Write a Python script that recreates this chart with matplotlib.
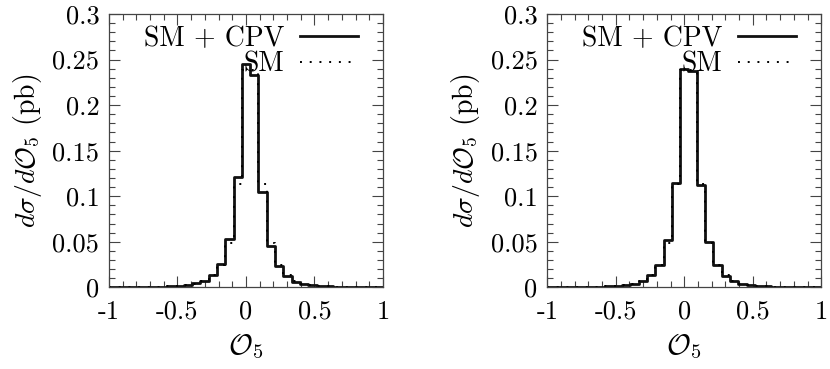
import numpy as np
import matplotlib
matplotlib.use("Agg")
import matplotlib.pyplot as plt
from matplotlib.ticker import MultipleLocator

plt.rcParams['font.family'] = ['cmr10']
plt.rcParams['mathtext.fontset'] = 'cm'
plt.rcParams['axes.unicode_minus'] = False

# bin edges of the O5 histogram (33 bins on [-1, 1])
edges = np.linspace(-1, 1, 34)

sm = [0.0001, 0.0001, 0.0002, 0.0003, 0.0004, 0.0006, 0.0008, 0.0012, 0.0017,
      0.0025, 0.0040, 0.0068, 0.013, 0.0245, 0.049, 0.113, 0.239, 0.239, 0.113,
      0.049, 0.0245, 0.013, 0.0068, 0.0040, 0.0025, 0.0017, 0.0012, 0.0008,
      0.0006, 0.0004, 0.0003, 0.0002, 0.0001]

cpv_left = [0.0001, 0.0001, 0.0002, 0.0003, 0.0004, 0.0006, 0.0008, 0.0013, 0.0018,
            0.0027, 0.0043, 0.0073, 0.0137, 0.026, 0.053, 0.121, 0.245, 0.233, 0.105,
            0.045, 0.023, 0.0123, 0.0063, 0.0037, 0.0023, 0.0016, 0.0011, 0.0008,
            0.0006, 0.0004, 0.0003, 0.0002, 0.0001]

cpv_right = [0.0001, 0.0001, 0.0002, 0.0003, 0.0004, 0.0006, 0.0008, 0.0012, 0.0017,
             0.0026, 0.0041, 0.0070, 0.0133, 0.0250, 0.0515, 0.115, 0.240, 0.238, 0.112,
             0.0500, 0.0240, 0.0128, 0.0067, 0.0040, 0.0025, 0.0017, 0.0012, 0.0008,
             0.0006, 0.0004, 0.0003, 0.0002, 0.0001]

xticks = [-1, -0.5, 0, 0.5, 1]
xticklabels = ['-1', '-0.5', '0', '0.5', '1']
yticks = [0, 0.05, 0.1, 0.15, 0.2, 0.25, 0.3]
yticklabels = ['0', '0.05', '0.1', '0.15', '0.2', '0.25', '0.3']

fig = plt.figure(figsize=(8.30, 3.69), dpi=100)
axes = [fig.add_axes([0.1313, 0.2214, 0.3301, 0.7406]),
        fig.add_axes([0.6594, 0.2214, 0.3301, 0.7406])]

fs = 19
lfs = 20
for ax, cpv in zip(axes, [cpv_left, cpv_right]):
    yc = np.append(cpv, cpv[-1])
    ys = np.append(sm, sm[-1])
    ax.step(edges, yc, where='post', color='#111111', lw=2.0, label='SM + CPV')
    ax.step(edges, ys, where='post', color='black', lw=1.4,
            linestyle=(0, (1, 4)), label='SM')
    ax.set_xlim(-1, 1)
    ax.set_ylim(0, 0.3)
    ax.set_xticks(xticks)
    ax.set_xticklabels(xticklabels, fontsize=fs)
    ax.set_yticks(yticks)
    ax.set_yticklabels(yticklabels, fontsize=fs)
    ax.xaxis.set_minor_locator(MultipleLocator(0.1))
    ax.yaxis.set_minor_locator(MultipleLocator(0.01))
    ax.tick_params(which='both', direction='in', top=True, right=True,
                   color='#444444', width=0.8)
    ax.tick_params(which='major', length=8)
    ax.tick_params(axis='x', which='major', pad=9)
    ax.tick_params(axis='y', which='major', pad=7)
    ax.tick_params(which='minor', length=4.3)
    for s in ax.spines.values():
        s.set_color('#444444')
        s.set_linewidth(0.9)
    ax.set_xlabel(r'$\mathcal{O}_5$', fontsize=lfs + 1, labelpad=6)
    ax.set_ylabel(r'$d\sigma/d\mathcal{O}_5$ (pb)', fontsize=lfs, labelpad=6)
    leg = ax.legend(loc='upper right', bbox_to_anchor=(0.909, 0.958),
                    frameon=False, markerfirst=False, fontsize=lfs,
                    handlelength=2.1, handletextpad=0.55, labelspacing=-0.02,
                    borderpad=0.0, borderaxespad=0.0)

fig.savefig('out.png', dpi=100)
